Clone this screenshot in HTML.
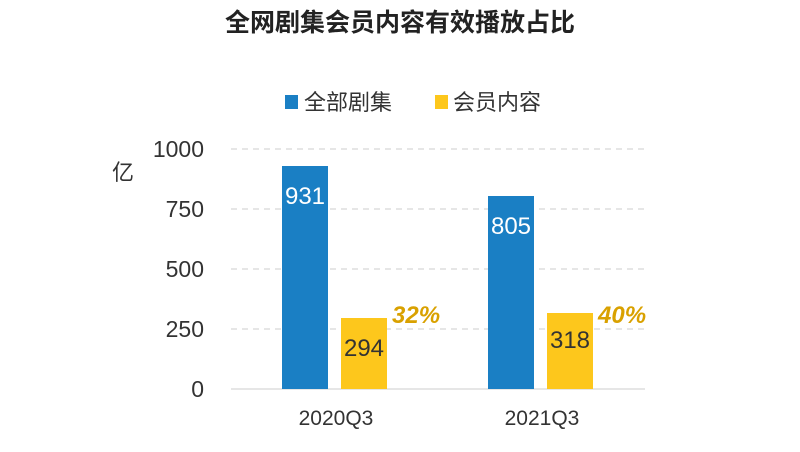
<!DOCTYPE html>
<html><head><meta charset="utf-8"><style>
body{margin:0;background:#fff;width:800px;height:447px;overflow:hidden;font-family:"Liberation Sans","Noto Sans CJK SC",sans-serif}
</style></head><body>
<svg width="800" height="447" xmlns="http://www.w3.org/2000/svg" font-family="Liberation Sans, Noto Sans CJK SC, sans-serif">
<text x="400" y="31" text-anchor="middle" font-size="25" font-weight="bold" fill="#222">全网剧集会员内容有效播放占比</text>
<rect x="285" y="95" width="13" height="14" fill="#1a7fc4"/>
<text x="304" y="110" font-size="22" fill="#333">全部剧集</text>
<rect x="435" y="95" width="13" height="14" fill="#fdc71c"/>
<text x="453" y="110" font-size="22" fill="#333">会员内容</text>
<g stroke="#ccc" stroke-dasharray="6,5" stroke-width="1">
<line x1="231" y1="149" x2="645" y2="149"/><line x1="231" y1="209" x2="645" y2="209"/>
<line x1="231" y1="269" x2="645" y2="269"/><line x1="231" y1="329" x2="645" y2="329"/>
</g>
<line x1="231" y1="389" x2="645" y2="389" stroke="#ccc"/>
<g font-size="23" fill="#333" text-anchor="end">
<text x="204" y="157">1000</text><text x="204" y="217">750</text><text x="204" y="277">500</text><text x="204" y="337">250</text><text x="204" y="397">0</text>
</g>
<text x="112" y="180" font-size="22" fill="#333">亿</text>
<rect x="282" y="166" width="46" height="223" fill="#1a7fc4"/>
<rect x="341" y="318" width="46" height="71" fill="#fdc71c"/>
<rect x="488" y="196" width="46" height="193" fill="#1a7fc4"/>
<rect x="547" y="313" width="46" height="76" fill="#fdc71c"/>
<g font-size="24" text-anchor="middle">
<text x="305" y="204" fill="#fff">931</text>
<text x="511" y="234" fill="#fff">805</text>
<text x="364" y="356" fill="#333">294</text>
<text x="570" y="348" fill="#333">318</text>
</g>
<g font-size="24" font-weight="bold" font-style="italic" fill="#d9a100">
<text x="392" y="323">32%</text><text x="598" y="323">40%</text>
</g>
<g font-size="21" fill="#333" text-anchor="middle">
<text x="336" y="425">2020Q3</text><text x="542" y="425">2021Q3</text>
</g>
</svg>
</body></html>
